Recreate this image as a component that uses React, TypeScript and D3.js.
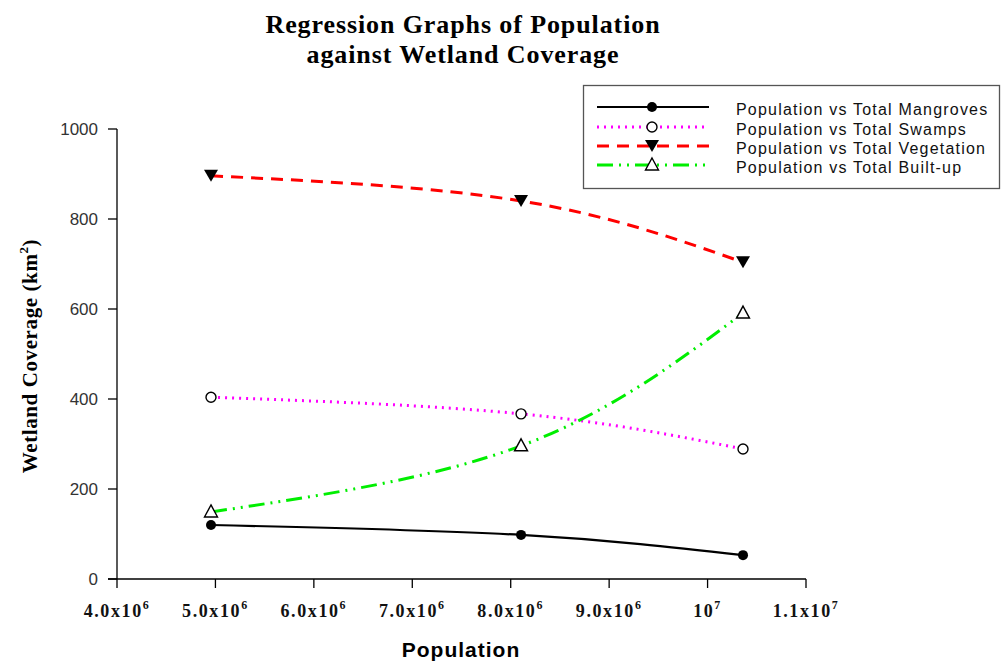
import React from "react";
import * as d3 from "d3";

const populations = [4.955e6, 8.105e6, 1.036e7];
const mangroves = [120, 98, 53];
const swamps = [404, 367, 289];
const vegetation = [896, 840, 704];
const builtUp = [149, 296, 591];

const xTicks = [4e6, 5e6, 6e6, 7e6, 8e6, 9e6, 1e7, 1.1e7];
const xTickBase = ["4.0x10", "5.0x10", "6.0x10", "7.0x10", "8.0x10", "9.0x10", "10", "1.1x10"];
const xTickExp = ["6", "6", "6", "6", "6", "6", "7", "7"];
const yTicks = [0, 200, 400, 600, 800, 1000];

const seriesNames = [
  "Population vs Total Mangroves",
  "Population vs Total Swamps",
  "Population vs Total Vegetation",
  "Population vs Total Built-up",
];
const seriesValues = [mangroves, swamps, vegetation, builtUp];
const seriesColors = ["#000000", "#ff00ff", "#ff0000", "#00ee00"];
const seriesDash = ["none", "2,5", "12,8", "16,6,2,6,2,6"];
const seriesWidth = [2.2, 3, 3, 3];
const markerKinds = ["filledCircle", "openCircle", "filledDown", "openUp"];

function Marker({ kind, x, y }: { kind: string; x: number; y: number }) {
  if (kind === "filledCircle") return <circle cx={x} cy={y} r={5} fill="#000" />;
  if (kind === "openCircle") return <circle cx={x} cy={y} r={5} fill="#fff" stroke="#000" strokeWidth={1.4} />;
  if (kind === "filledDown")
    return <path d={`M${x - 7},${y - 6}L${x + 7},${y - 6}L${x},${y + 6}Z`} fill="#000" />;
  return <path d={`M${x},${y - 7}L${x + 6.5},${y + 5}L${x - 6.5},${y + 5}Z`} fill="#fff" stroke="#000" strokeWidth={1.4} />;
}

export default function App() {
  const W = 1003, H = 661;
  const x = d3.scaleLinear().domain([4e6, 1.1e7]).range([117, 806]);
  const y = d3.scaleLinear().domain([0, 1000]).range([579, 129]);
  const line = d3
    .line<number>()
    .x((_, i) => x(populations[i]))
    .y((d) => y(d))
    .curve(d3.curveNatural);

  const legendYs = [107, 127, 146, 165];

  return (
    <svg width={W} height={H} style={{ position: "absolute", left: 0, top: 0, background: "#fff" }}>
      <rect width={W} height={H} fill="#fff" />
      <g fontFamily="'Liberation Serif', 'Times New Roman', serif" fontWeight="bold" fontSize={26} letterSpacing={0.9} textAnchor="middle">
        <text x={463} y={33}>Regression Graphs of Population</text>
        <text x={463} y={63}>against Wetland Coverage</text>
      </g>

      {/* axes */}
      <line x1={117} y1={129} x2={117} y2={579} stroke="#000" strokeWidth={1.3} />
      <line x1={108} y1={579} x2={806} y2={579} stroke="#000" strokeWidth={1.3} />
      {yTicks.map((t) => (
        <g key={t}>
          <line x1={108} x2={117} y1={y(t)} y2={y(t)} stroke="#000" strokeWidth={1.3} />
          <text x={98} y={y(t) + 6} textAnchor="end" fontFamily="'Liberation Sans', Arial, sans-serif" fontSize={17} fill="#333">
            {t}
          </text>
        </g>
      ))}
      {xTicks.map((t, i) => (
        <g key={t}>
          <line x1={x(t)} x2={x(t)} y1={579} y2={588} stroke="#000" strokeWidth={1.3} />
          <text
            x={x(t)}
            y={617}
            textAnchor="middle"
            fontFamily="'Liberation Serif', 'Times New Roman', serif"
            fontWeight="bold"
            fontSize={18}
            letterSpacing={1.6}
            fill="#111"
          >
            {xTickBase[i]}
            <tspan fontSize={12} dy={-8}>{xTickExp[i]}</tspan>
          </text>
        </g>
      ))}
      <text x={461} y={657} textAnchor="middle" fontFamily="'Liberation Sans', Arial, sans-serif" fontWeight="bold" fontSize={21} letterSpacing={1}>
        Population
      </text>
      <text
        transform="translate(37,356) rotate(-90)"
        textAnchor="middle"
        fontFamily="'Liberation Serif', 'Times New Roman', serif"
        fontWeight="bold"
        fontSize={21}
        letterSpacing={0.6}
      >
        Wetland Coverage (km<tspan fontSize={13} dy={-9}>2</tspan>
        <tspan dy={9}>)</tspan>
      </text>

      {/* series */}
      {seriesValues.map((vals, s) => (
        <g key={s}>
          <path
            d={line(vals) || ""}
            fill="none"
            stroke={seriesColors[s]}
            strokeWidth={seriesWidth[s]}
            strokeDasharray={seriesDash[s]}
          />
          {vals.map((v, i) => (
            <Marker key={i} kind={markerKinds[s]} x={x(populations[i])} y={y(v)} />
          ))}
        </g>
      ))}

      {/* legend */}
      <rect x={583.5} y={85.5} width={416} height={103} fill="#fff" stroke="#555" strokeWidth={1.3} />
      {seriesNames.map((name, s) => (
        <g key={s}>
          <line
            x1={597}
            x2={709}
            y1={legendYs[s]}
            y2={legendYs[s]}
            stroke={seriesColors[s]}
            strokeWidth={seriesWidth[s]}
            strokeDasharray={seriesDash[s]}
          />
          <Marker kind={markerKinds[s]} x={652} y={legendYs[s]} />
          <text
            x={736}
            y={legendYs[s] + 7.5}
            fontFamily="'Liberation Sans', Arial, sans-serif"
            fontSize={16}
            letterSpacing={1.2}
            fill="#111"
          >
            {name}
          </text>
        </g>
      ))}
    </svg>
  );
}
